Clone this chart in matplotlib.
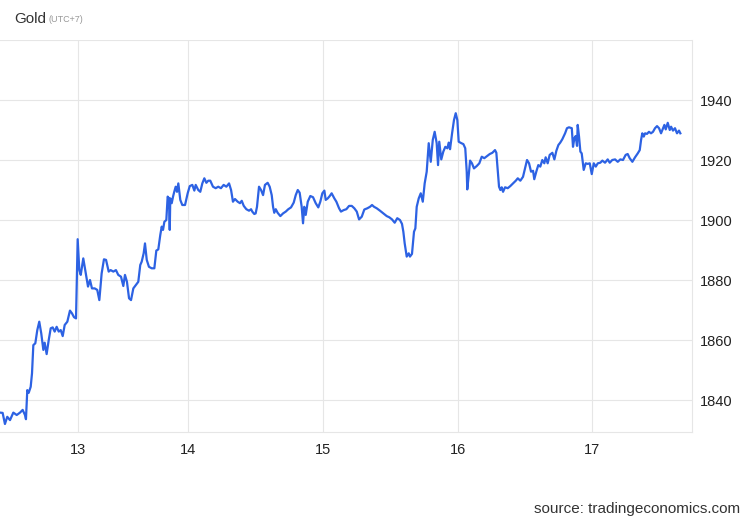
import numpy as np
import matplotlib
matplotlib.use("Agg")
import matplotlib.pyplot as plt

plt.rcParams['font.family'] = ['Liberation Sans', 'DejaVu Sans']

# intraday gold price, x in days of the month (UTC+7)
days = [
    12.291, 12.315, 12.336, 12.357, 12.382, 12.412, 12.443, 12.473, 12.497, 12.518,
    12.527, 12.539, 12.552, 12.570, 12.582, 12.594, 12.612, 12.630, 12.648, 12.666,
    12.685, 12.697, 12.715, 12.734, 12.752, 12.770, 12.788, 12.806, 12.825, 12.843,
    12.861, 12.879, 12.903, 12.927, 12.945, 12.964, 12.982, 12.997, 13.012, 13.025,
    13.048, 13.066, 13.091, 13.109, 13.127, 13.152, 13.175, 13.194, 13.215, 13.236,
    13.255, 13.279, 13.297, 13.321, 13.345, 13.366, 13.391, 13.412, 13.427, 13.445,
    13.464, 13.482, 13.503, 13.525, 13.548, 13.566, 13.579, 13.597, 13.609, 13.625,
    13.645, 13.670, 13.694, 13.712, 13.730, 13.748, 13.761, 13.773, 13.785, 13.803,
    13.815, 13.827, 13.834, 13.839, 13.852, 13.864, 13.875, 13.888, 13.900, 13.912,
    13.930, 13.948, 13.973, 13.997, 14.013, 14.032, 14.047, 14.057, 14.076, 14.091,
    14.106, 14.121, 14.136, 14.150, 14.165, 14.185, 14.205, 14.224, 14.244, 14.264,
    14.284, 14.304, 14.319, 14.333, 14.348, 14.368, 14.385, 14.398, 14.413, 14.432,
    14.452, 14.467, 14.476, 14.491, 14.501, 14.511, 14.526, 14.541, 14.556, 14.570,
    14.590, 14.605, 14.620, 14.630, 14.639, 14.650, 14.664, 14.684, 14.704, 14.724,
    14.743, 14.763, 14.783, 14.798, 14.813, 14.827, 14.842, 14.852, 14.861, 14.872,
    14.887, 14.906, 14.926, 14.946, 14.965, 14.980, 14.995, 15.010, 15.020, 15.035,
    15.050, 15.064, 15.084, 15.099, 15.119, 15.133, 15.153, 15.173, 15.193, 15.213,
    15.232, 15.250, 15.267, 15.287, 15.306, 15.328, 15.348, 15.363, 15.378, 15.398,
    15.422, 15.447, 15.472, 15.491, 15.511, 15.531, 15.550, 15.570, 15.585, 15.595,
    15.605, 15.620, 15.635, 15.644, 15.659, 15.674, 15.684, 15.694, 15.709, 15.724,
    15.739, 15.753, 15.768, 15.783, 15.798, 15.813, 15.827, 15.842, 15.852, 15.861,
    15.876, 15.891, 15.906, 15.921, 15.931, 15.941, 15.956, 15.970, 15.983, 15.995,
    16.005, 16.025, 16.040, 16.054, 16.065, 16.069, 16.080, 16.090, 16.104, 16.119,
    16.140, 16.159, 16.177, 16.196, 16.216, 16.237, 16.256, 16.276, 16.286, 16.296,
    16.306, 16.316, 16.326, 16.336, 16.351, 16.371, 16.390, 16.410, 16.431, 16.446,
    16.465, 16.485, 16.500, 16.515, 16.530, 16.545, 16.560, 16.569, 16.584, 16.599,
    16.614, 16.629, 16.644, 16.654, 16.669, 16.684, 16.704, 16.719, 16.734, 16.749,
    16.763, 16.778, 16.799, 16.813, 16.828, 16.849, 16.858, 16.868, 16.878, 16.888,
    16.893, 16.903, 16.913, 16.923, 16.938, 16.953, 16.968, 16.983, 16.998, 17.013,
    17.028, 17.043, 17.062, 17.077, 17.097, 17.117, 17.132, 17.151, 17.172, 17.192,
    17.211, 17.231, 17.251, 17.266, 17.281, 17.301, 17.321, 17.341, 17.356, 17.366,
    17.375, 17.386, 17.396, 17.410, 17.425, 17.440, 17.455, 17.470, 17.485, 17.500,
    17.515, 17.530, 17.540, 17.550, 17.565, 17.580, 17.590, 17.604, 17.619, 17.634,
    17.649, 17.659,
]
price = [
    1835.8, 1835.7, 1832.0, 1834.4, 1833.3, 1835.8, 1835.0, 1835.8, 1836.7, 1835.0,
    1833.6, 1843.3, 1842.4, 1844.4, 1848.9, 1858.3, 1858.9, 1863.3, 1866.1, 1862.2,
    1856.7, 1859.1, 1855.3, 1860.0, 1863.9, 1864.2, 1862.8, 1864.4, 1862.8, 1863.3,
    1861.3, 1865.0, 1866.1, 1869.8, 1868.9, 1867.6, 1867.2, 1893.6, 1883.3, 1881.7,
    1887.2, 1883.3, 1877.8, 1880.0, 1877.2, 1877.2, 1876.7, 1873.3, 1882.2, 1886.9,
    1886.7, 1882.8, 1883.3, 1882.8, 1883.3, 1881.7, 1881.1, 1878.0, 1881.7, 1879.4,
    1873.9, 1873.3, 1877.2, 1878.3, 1879.4, 1885.0, 1886.1, 1888.9, 1892.2, 1886.7,
    1884.4, 1883.9, 1883.9, 1889.8, 1890.2, 1895.0, 1897.8, 1896.7, 1899.4, 1900.0,
    1907.8, 1907.2, 1896.7, 1907.2, 1905.6, 1907.8, 1909.4, 1911.1, 1909.4, 1912.2,
    1906.7, 1905.0, 1905.0, 1908.9, 1911.3, 1911.7, 1909.8, 1911.7, 1910.0, 1909.4,
    1912.2, 1913.9, 1912.4, 1913.1, 1913.1, 1911.1, 1910.6, 1911.1, 1910.6, 1911.7,
    1911.1, 1912.2, 1910.0, 1906.1, 1907.0, 1906.1, 1905.6, 1906.4, 1904.7, 1903.6,
    1903.1, 1903.6, 1902.8, 1902.0, 1902.2, 1904.4, 1911.1, 1910.0, 1908.3, 1911.7,
    1912.4, 1911.1, 1908.3, 1904.4, 1902.4, 1903.6, 1902.4, 1901.3, 1902.2, 1902.8,
    1903.6, 1904.2, 1905.8, 1908.3, 1910.0, 1909.1, 1904.4, 1898.9, 1904.4, 1901.7,
    1906.1, 1908.0, 1907.6, 1905.6, 1904.2, 1906.1, 1908.9, 1909.8, 1906.7, 1907.2,
    1908.0, 1908.9, 1907.2, 1906.1, 1903.9, 1902.8, 1903.3, 1903.6, 1904.7, 1904.7,
    1903.9, 1902.8, 1900.2, 1901.1, 1903.5, 1903.9, 1904.4, 1905.0, 1904.4, 1903.9,
    1903.1, 1902.2, 1901.3, 1900.9, 1900.2, 1899.1, 1900.6, 1900.0, 1898.7, 1896.1,
    1892.2, 1887.8, 1888.9, 1887.8, 1888.7, 1896.1, 1897.2, 1904.4, 1907.2, 1908.9,
    1906.1, 1912.2, 1916.1, 1925.6, 1919.4, 1926.7, 1929.4, 1925.6, 1918.3, 1926.1,
    1920.2, 1922.8, 1924.4, 1923.9, 1925.8, 1923.6, 1928.9, 1933.3, 1935.6, 1933.3,
    1926.1, 1925.6, 1925.3, 1923.9, 1916.1, 1910.2, 1915.0, 1919.8, 1918.9, 1917.2,
    1918.0, 1918.9, 1921.1, 1920.6, 1921.3, 1922.0, 1922.4, 1923.3, 1922.4, 1916.7,
    1911.1, 1910.0, 1910.9, 1909.4, 1910.9, 1910.6, 1911.3, 1912.2, 1913.1, 1913.9,
    1913.1, 1914.4, 1917.2, 1920.0, 1918.9, 1916.1, 1916.4, 1913.6, 1916.1, 1918.3,
    1917.8, 1920.0, 1918.9, 1920.9, 1918.9, 1921.7, 1922.4, 1920.2, 1923.1, 1925.0,
    1925.8, 1926.9, 1928.9, 1930.6, 1930.9, 1930.6, 1924.4, 1927.2, 1928.0, 1924.7,
    1931.7, 1927.8, 1922.8, 1922.2, 1916.7, 1918.9, 1918.7, 1918.9, 1915.3, 1918.9,
    1917.8, 1918.9, 1919.1, 1919.8, 1919.1, 1920.2, 1919.1, 1920.0, 1920.2, 1919.4,
    1920.2, 1920.0, 1921.7, 1922.0, 1920.6, 1919.4, 1920.9, 1922.2, 1923.3, 1926.7,
    1928.9, 1927.8, 1928.9, 1928.7, 1929.4, 1928.9, 1929.4, 1930.6, 1931.3, 1930.6,
    1928.9, 1930.6, 1931.7, 1930.2, 1932.4, 1930.0, 1931.1, 1929.8, 1930.6, 1928.9,
    1929.8, 1928.9,
]

day_ticks = [13, 14, 15, 16, 17]
day_labels = ['13', '14', '15', '16', '17']
price_ticks = [1840, 1860, 1880, 1900, 1920, 1940]

# the chart gives the 13th a narrower slot than the other sessions
knot_days = np.array([12, 13, 14, 15, 16, 17, 18])
knot_pos = np.array([0.0, 110, 220, 355, 490, 624, 758])


def fwd(d):
    return np.interp(d, knot_days, knot_pos)


def inv(p):
    return np.interp(p, knot_pos, knot_days)


fig = plt.figure(figsize=(7.5, 5.2), dpi=100)
ax = fig.add_axes([0.0, 1 - 432 / 520, 692 / 750, (432 - 40) / 520])
ax.set_xscale('function', functions=(fwd, inv))

ax.plot(days, price, color='#2d62e3', lw=1.6, solid_joinstyle='round')

ax.set_xlim(12.291, 17.746)
ax.set_ylim(1960 - (432 - 40) / 3, 1960)
ax.set_xticks(day_ticks)
ax.set_xticklabels(day_labels)
ax.set_yticks(price_ticks)
ax.yaxis.tick_right()
ax.tick_params(axis='both', length=0, labelsize=10.5, colors='#222222')
ax.tick_params(axis='x', pad=8)
ax.tick_params(axis='y', pad=6)

ax.grid(True, color='#e6e6e6', lw=0.8)
ax.axhline(1960, color='#e6e6e6', lw=0.8)
for s in ['left', 'top']:
    ax.spines[s].set_visible(False)
ax.spines['right'].set_color('#e6e6e6')
ax.spines['bottom'].set_color('#e6e6e6')

fig.text(14 / 750, 1 - 19 / 520, 'Gold', fontsize=11, color='#333333', va='center')
fig.text(49 / 750, 1 - 20 / 520, '(UTC+7)', fontsize=6.5, color='#999999', va='center')
fig.text(740 / 750, 1 - 509 / 520, 'source: tradingeconomics.com', fontsize=11,
         color='#333333', ha='right', va='center')

fig.savefig('out.png', dpi=100)
